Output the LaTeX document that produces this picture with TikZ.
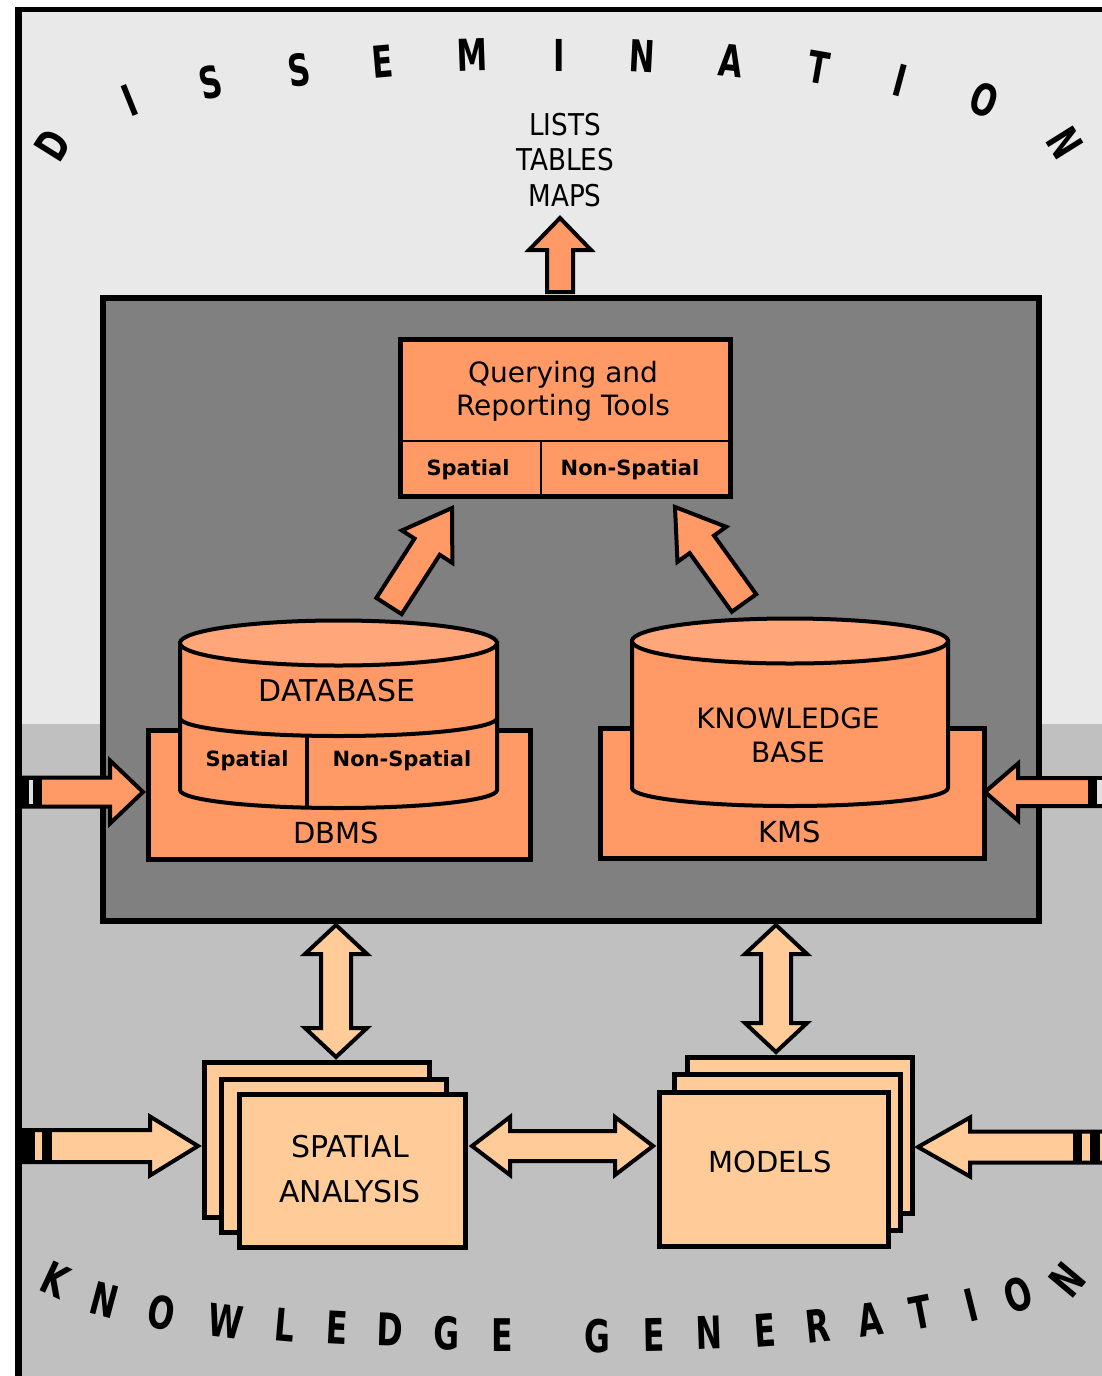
\documentclass[tikz,border=0pt]{standalone}
\usepackage{fontspec}
\setmainfont{DejaVu Sans}
\usetikzlibrary{calc}
\definecolor{org}{HTML}{FF9966}
\definecolor{orgtop}{HTML}{FFA67A}
\definecolor{peach}{HTML}{FFCC99}
\definecolor{ltgray}{HTML}{E9E9E9}
\definecolor{mdgray}{HTML}{C0C0C0}
\definecolor{dkgray}{HTML}{808080}
\definecolor{stripe}{HTML}{E0E0E0}

% single block arrow: from, to, half shaft, half head, head length, fill
\newcommand{\blkarrow}[6]{%
  \coordinate (ah) at ($(#2)!#5!(#1)$);
  \draw[arrline, fill=#6] ($(#1)!#3!90:(#2)$) -- ($(ah)!#3!90:(#2)$) -- ($(ah)!#4!90:(#2)$) -- (#2)
     -- ($(ah)!#4!-90:(#2)$) -- ($(ah)!#3!-90:(#2)$) -- ($(#1)!#3!-90:(#2)$) -- cycle;}
% double block arrow
\newcommand{\dblarrow}[6]{%
  \coordinate (ahb) at ($(#2)!#5!(#1)$);
  \coordinate (aha) at ($(#1)!#5!(#2)$);
  \draw[arrline, fill=#6] (#1) -- ($(aha)!#4!90:(#2)$) -- ($(aha)!#3!90:(#2)$) -- ($(ahb)!#3!90:(#2)$)
     -- ($(ahb)!#4!90:(#2)$) -- (#2) -- ($(ahb)!#4!-90:(#2)$) -- ($(ahb)!#3!-90:(#2)$)
     -- ($(aha)!#3!-90:(#2)$) -- ($(aha)!#4!-90:(#2)$) -- cycle;}
\newcommand{\cnd}[1]{\scalebox{0.7}[1]{#1}}

\begin{document}
\begin{tikzpicture}[x=1pt,y=-1pt,
  arrline/.style={line width=4, line join=miter, miter limit=10},
  obox/.style={draw, line width=4.5, fill=org, inner sep=0, anchor=north west},
  pbox/.style={draw, line width=5, fill=peach, inner sep=0, anchor=north west},
  cyl/.style={draw, line width=4},
  lbl/.style={inner sep=0, align=center, font=\fontsize{29}{34}\selectfont},
  sml/.style={inner sep=0, font=\fontsize{21}{24}\selectfont\bfseries},
  arcl/.style={inner sep=0, font=\fontsize{44}{44}\selectfont\bfseries},
  arcb/.style={inner sep=0, font=\fontsize{45}{45}\selectfont\bfseries}]
\useasboundingbox (0,0) rectangle (1102,1376);
\clip (0,0) rectangle (1102,1376);
% background and frame
\fill[white] (0,0) rectangle (1102,1376);
\fill[ltgray] (22,12) rectangle (1102,724);
\fill[mdgray] (22,724) rectangle (1102,1376);
\fill[black] (15,7) rectangle (1102,12);
\fill[black] (15,7) rectangle (22,1376);

% main dark box
\node[draw, line width=6, fill=dkgray, inner sep=0, minimum width=936, minimum height=623, anchor=north west] (main) at (100,295) {};

% top output arrow
\coordinate (outbase) at (560,292);
\coordinate (outtip) at (560,218);
\blkarrow{outbase}{outtip}{13pt}{31pt}{32pt}{org}
\node[lbl, font=\fontsize{30}{35.5}\selectfont] (lists) at (565,160) {\cnd{\scalebox{1.25}[1]{LISTS}}\\\cnd{\scalebox{1.25}[1]{TABLES}}\\\cnd{\scalebox{1.25}[1]{MAPS}}};

% querying box
\node[obox, minimum width=330, minimum height=157] (q) at (398,337) {};
\draw[line width=2.5] (398,441) -- (728,441);
\draw[line width=2.5] (541,441) -- (541,494);
\node[lbl, font=\fontsize{28}{33}\selectfont] (qt) at (563,391) {Querying and\\Reporting Tools};
\node[sml] (qs) at (468,470) {Spatial};
\node[sml] (qn) at (630,470) {Non-Spatial};

% DBMS and database
\node[obox, minimum width=382, minimum height=129] (dbms) at (146,728) {};
\node[lbl] (dbmst) at (336,833) {DBMS};
\draw[cyl, fill=org] (180,643) -- (180,790) arc[start angle=180, end angle=0, x radius=158.5, y radius=18] -- (497,643) -- cycle;
\draw[cyl, fill=orgtop] (338.5,643) ellipse[x radius=158.5, y radius=22.5];
\draw[cyl] (180,718) arc[start angle=180, end angle=0, x radius=158.5, y radius=18];
\draw[cyl] (307,736) -- (307,808);
\node[lbl, font=\fontsize{30}{34}\selectfont] (dbt) at (337,691) {DATABASE};
\node[sml] (dbs) at (247,761) {Spatial};
\node[sml] (dbn) at (402,761) {Non-Spatial};

% KMS and knowledge base
\node[obox, minimum width=384, minimum height=130] (kms) at (598,726) {};
\node[lbl] (kmst) at (790,832) {KMS};
\draw[cyl, fill=org] (632,641) -- (632,788) arc[start angle=180, end angle=0, x radius=158, y radius=18] -- (948,641) -- cycle;
\draw[cyl, fill=orgtop] (790,641) ellipse[x radius=158, y radius=22.5];
\node[lbl, font=\fontsize{28}{34}\selectfont] (kbt) at (788,735) {KNOWLEDGE\\BASE};

% diagonal arrows to query tools
\coordinate (dbout) at (389,606);
\coordinate (qin1) at (452,508);
\blkarrow{dbout}{qin1}{15pt}{30pt}{46pt}{org}
\coordinate (kbout) at (744,603);
\coordinate (qin2) at (675,507);
\blkarrow{kbout}{qin2}{15pt}{30pt}{46pt}{org}

% side input arrows (upper)
\coordinate (inl1) at (22,792);
\coordinate (dbmsw) at (143,792);
\blkarrow{inl1}{dbmsw}{14.5pt}{31.5pt}{33pt}{org}
\fill[black] (22,777) rectangle (42,807);
\fill[stripe] (29,780) rectangle (33,804);
\coordinate (inr1) at (1106,792);
\coordinate (kmse) at (985,792);
\blkarrow{inr1}{kmse}{14pt}{28.5pt}{33pt}{org}
\fill[black] (1088,778) rectangle (1097,806);
\fill[stripe] (1097,780) rectangle (1102,804);

% spatial analysis stack
\node[pbox, minimum width=225, minimum height=155] (sa3) at (202,1060) {};
\node[pbox, minimum width=225, minimum height=153] (sa2) at (219,1077) {};
\node[pbox, minimum width=226, minimum height=153] (sa) at (237,1092) {};
\node[lbl, font=\fontsize{30}{45}\selectfont] (sat) at (350,1169) {SPATIAL\\ANALYSIS};

% models stack
\node[pbox, minimum width=225, minimum height=156] (m3) at (685,1055) {};
\node[pbox, minimum width=226, minimum height=156] (m2) at (672,1072) {};
\node[pbox, minimum width=229, minimum height=154] (m) at (657,1090) {};
\node[lbl] (mt) at (770,1162) {MODELS};

% double arrows
\coordinate (dbdn) at (336,925);
\coordinate (saup) at (336,1057);
\dblarrow{dbdn}{saup}{15pt}{31pt}{29pt}{peach}
\coordinate (kbdn) at (776,925);
\coordinate (mup) at (776,1052);
\dblarrow{kbdn}{mup}{15pt}{31pt}{29pt}{peach}
\coordinate (sae) at (472,1146);
\coordinate (mw) at (653,1146);
\dblarrow{sae}{mw}{15pt}{29pt}{38pt}{peach}

% side input arrows (lower)
\coordinate (inl2) at (22,1146);
\coordinate (saw) at (198,1146);
\blkarrow{inl2}{saw}{16pt}{29.5pt}{48pt}{peach}
\fill[black] (22,1130) rectangle (35,1162);
\fill[peach] (35,1133) rectangle (42,1159);
\fill[black] (42,1130) rectangle (52,1162);
\coordinate (inr2) at (1106,1147);
\coordinate (me) at (918,1147);
\blkarrow{inr2}{me}{15.5pt}{29.5pt}{52pt}{peach}
\fill[black] (1073,1131) rectangle (1082,1163);
\fill[peach] (1082,1134) rectangle (1090,1160);
\fill[black] (1090,1131) rectangle (1100,1163);

% DISSEMINATION arc
\node[arcl, rotate=58] (t1) at (53,145) {\cnd{D}};
\node[arcl, rotate=22] (t2) at (130,100) {\cnd{I}};
\node[arcl, rotate=13] (t3) at (211,82) {\cnd{S}};
\node[arcl, rotate=8] (t4) at (299,70) {\cnd{S}};
\node[arcl, rotate=5] (t5) at (383,62) {\cnd{E}};
\node[arcl, rotate=2] (t6) at (472,55) {\cnd{M}};
\node[arcl] (t7) at (559,55) {\cnd{I}};
\node[arcl, rotate=-3] (t8) at (642,56) {\cnd{N}};
\node[arcl, rotate=-6] (t9) at (731,61) {\cnd{A}};
\node[arcl, rotate=-10] (t10) at (819,68) {\cnd{T}};
\node[arcl, rotate=-15] (t11) at (900,80) {\cnd{I}};
\node[arcl, rotate=-20] (t12) at (984,100) {\cnd{O}};
\node[arcl, rotate=-58] (t13) at (1065,143) {\cnd{N}};

% KNOWLEDGE GENERATION arc
\node[arcb, rotate=-25] (b1) at (55,1280) {\cnd{K}};
\node[arcb, rotate=-15] (b2) at (104,1300) {\cnd{N}};
\node[arcb, rotate=-10] (b3) at (162,1313) {\cnd{O}};
\node[arcb, rotate=-7] (b4) at (226,1321) {\cnd{W}};
\node[arcb, rotate=-5] (b5) at (285,1325) {\cnd{L}};
\node[arcb, rotate=-3] (b6) at (337,1328) {\cnd{E}};
\node[arcb, rotate=-2] (b7) at (390,1330) {\cnd{D}};
\node[arcb, rotate=-1] (b8) at (447,1333) {\cnd{G}};
\node[arcb] (b9) at (502,1335) {\cnd{E}};
\node[arcb] (b10) at (597,1336) {\cnd{G}};
\node[arcb, rotate=1] (b11) at (654,1335) {\cnd{E}};
\node[arcb, rotate=2] (b12) at (709,1333) {\cnd{N}};
\node[arcb, rotate=4] (b13) at (765,1330) {\cnd{E}};
\node[arcb, rotate=6] (b14) at (818,1326) {\cnd{R}};
\node[arcb, rotate=8] (b15) at (870,1320) {\cnd{A}};
\node[arcb, rotate=11] (b16) at (921,1312) {\cnd{T}};
\node[arcb, rotate=14] (b17) at (971,1305) {\cnd{I}};
\node[arcb, rotate=18] (b18) at (1018,1295) {\cnd{O}};
\node[arcb, rotate=50] (b19) at (1067,1280) {\cnd{N}};
\end{tikzpicture}
\end{document}
